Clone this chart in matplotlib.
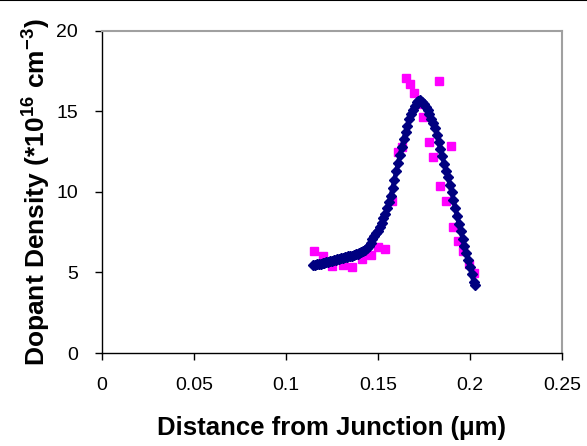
import matplotlib
matplotlib.use("Agg")
import matplotlib.pyplot as plt
from matplotlib.lines import Line2D

plt.rcParams["font.family"] = ["Liberation Sans", "DejaVu Sans"]
plt.rcParams["mathtext.fontset"] = "custom"
plt.rcParams["mathtext.rm"] = "Liberation Sans"
plt.rcParams["mathtext.bf"] = "Liberation Sans:bold"

# measured points (magenta squares)
meas_x = [0.1154, 0.1201, 0.1253, 0.1313, 0.1359, 0.1413, 0.1460, 0.1498, 0.1538,
          0.1578, 0.1609, 0.1630, 0.1655, 0.1677, 0.1696, 0.1724, 0.1745, 0.1777,
          0.1802, 0.1830, 0.1840, 0.1868, 0.1895, 0.1907, 0.1935, 0.1962, 0.1995,
          0.2020]
meas_y = [6.32, 6.00, 5.39, 5.47, 5.31, 5.82, 6.07, 6.60, 6.44,
          9.45, 12.49, 12.78, 17.07, 16.70, 16.16, 15.46, 14.66, 13.07,
          12.18, 16.90, 10.34, 9.45, 12.84, 7.80, 6.98, 6.30, 5.55,
          4.95]

# fitted profile (navy diamonds)
fit_x = [0.115, 0.116, 0.117, 0.118, 0.119, 0.120, 0.121, 0.122, 0.123, 0.124,
         0.125, 0.126, 0.127, 0.128, 0.129, 0.130, 0.131, 0.132, 0.133, 0.134,
         0.135, 0.136, 0.137, 0.138, 0.139, 0.140, 0.141, 0.142, 0.143, 0.144,
         0.145, 0.146, 0.147, 0.148, 0.149, 0.150, 0.151, 0.152, 0.153, 0.154,
         0.155, 0.156, 0.157, 0.158, 0.159, 0.160, 0.161, 0.162, 0.163, 0.164,
         0.165, 0.166, 0.167, 0.168, 0.169, 0.170, 0.171, 0.172, 0.173, 0.174,
         0.175, 0.176, 0.177, 0.178, 0.179, 0.180, 0.181, 0.182, 0.183, 0.184,
         0.185, 0.186, 0.187, 0.188, 0.189, 0.190, 0.191, 0.192, 0.193, 0.194,
         0.195, 0.196, 0.197, 0.198, 0.199, 0.200, 0.201, 0.202, 0.2025]
fit_y = [5.45, 5.48, 5.50, 5.53, 5.55, 5.58, 5.60, 5.63, 5.66, 5.69,
         5.72, 5.75, 5.78, 5.81, 5.84, 5.87, 5.90, 5.93, 5.96, 5.99,
         6.02, 6.05, 6.08, 6.12, 6.16, 6.21, 6.26, 6.33, 6.41, 6.50,
         6.65, 6.84, 7.05, 7.24, 7.42, 7.60, 7.83, 8.05, 8.35, 8.65,
         9.00, 9.35, 9.75, 10.25, 10.75, 11.30, 11.80, 12.30, 12.80, 13.30,
         13.70, 14.10, 14.50, 14.85, 15.10, 15.35, 15.55, 15.65, 15.70, 15.60,
         15.45, 15.25, 15.05, 14.80, 14.55, 14.28, 13.95, 13.55, 13.10, 12.65,
         12.20, 11.75, 11.30, 10.90, 10.45, 10.00, 9.52, 9.00, 8.50, 8.00,
         7.55, 7.10, 6.65, 6.20, 5.78, 5.35, 4.90, 4.40, 4.20]

x_ticks = [0, 0.05, 0.1, 0.15, 0.2, 0.25]
x_tick_labels = ["0", "0.05", "0.1", "0.15", "0.2", "0.25"]
y_ticks = [0, 5, 10, 15, 20]

fig = plt.figure(figsize=(5.87, 4.46), dpi=100)
ax = fig.add_axes([0.1733, 0.2085, 0.7841, 0.7227])

ax.plot(meas_x, meas_y, linestyle="none", marker="s", markersize=5.5,
        color="#FF00FF", zorder=2)
ax.plot(fit_x, fit_y, linestyle="-", linewidth=3.2, marker="D", markersize=5,
        color="#000080", zorder=3)

ax.set_xlim(0, 0.25)
ax.set_ylim(0, 20)
ax.set_xticks(x_ticks)
ax.set_xticklabels(x_tick_labels)
ax.set_yticks(y_ticks)
ax.tick_params(direction="out", length=5, width=1, labelsize=14, color="black")
ax.tick_params(axis="x", pad=12)
ax.tick_params(axis="y", pad=12)

for side in ["left", "bottom"]:
    ax.spines[side].set_color("black")
    ax.spines[side].set_linewidth(1)
for side in ["top", "right"]:
    ax.spines[side].set_color("#A0A0A0")
    ax.spines[side].set_linewidth(1.5)

ax.set_xlabel("Distance from Junction (\u03bcm)", fontsize=18.5, fontweight="bold",
              labelpad=16)
ax.set_ylabel(r"Dopant Density (*10$^{\mathbf{16}}$ cm$^{\mathbf{-3}}$)", fontsize=19,
              fontweight="bold", labelpad=3)

# thin black rule along the top edge of the picture
fig.add_artist(Line2D([0, 1], [0.999, 0.999], color="black", linewidth=1.5,
                      transform=fig.transFigure))

fig.savefig("out.png", dpi=100)
